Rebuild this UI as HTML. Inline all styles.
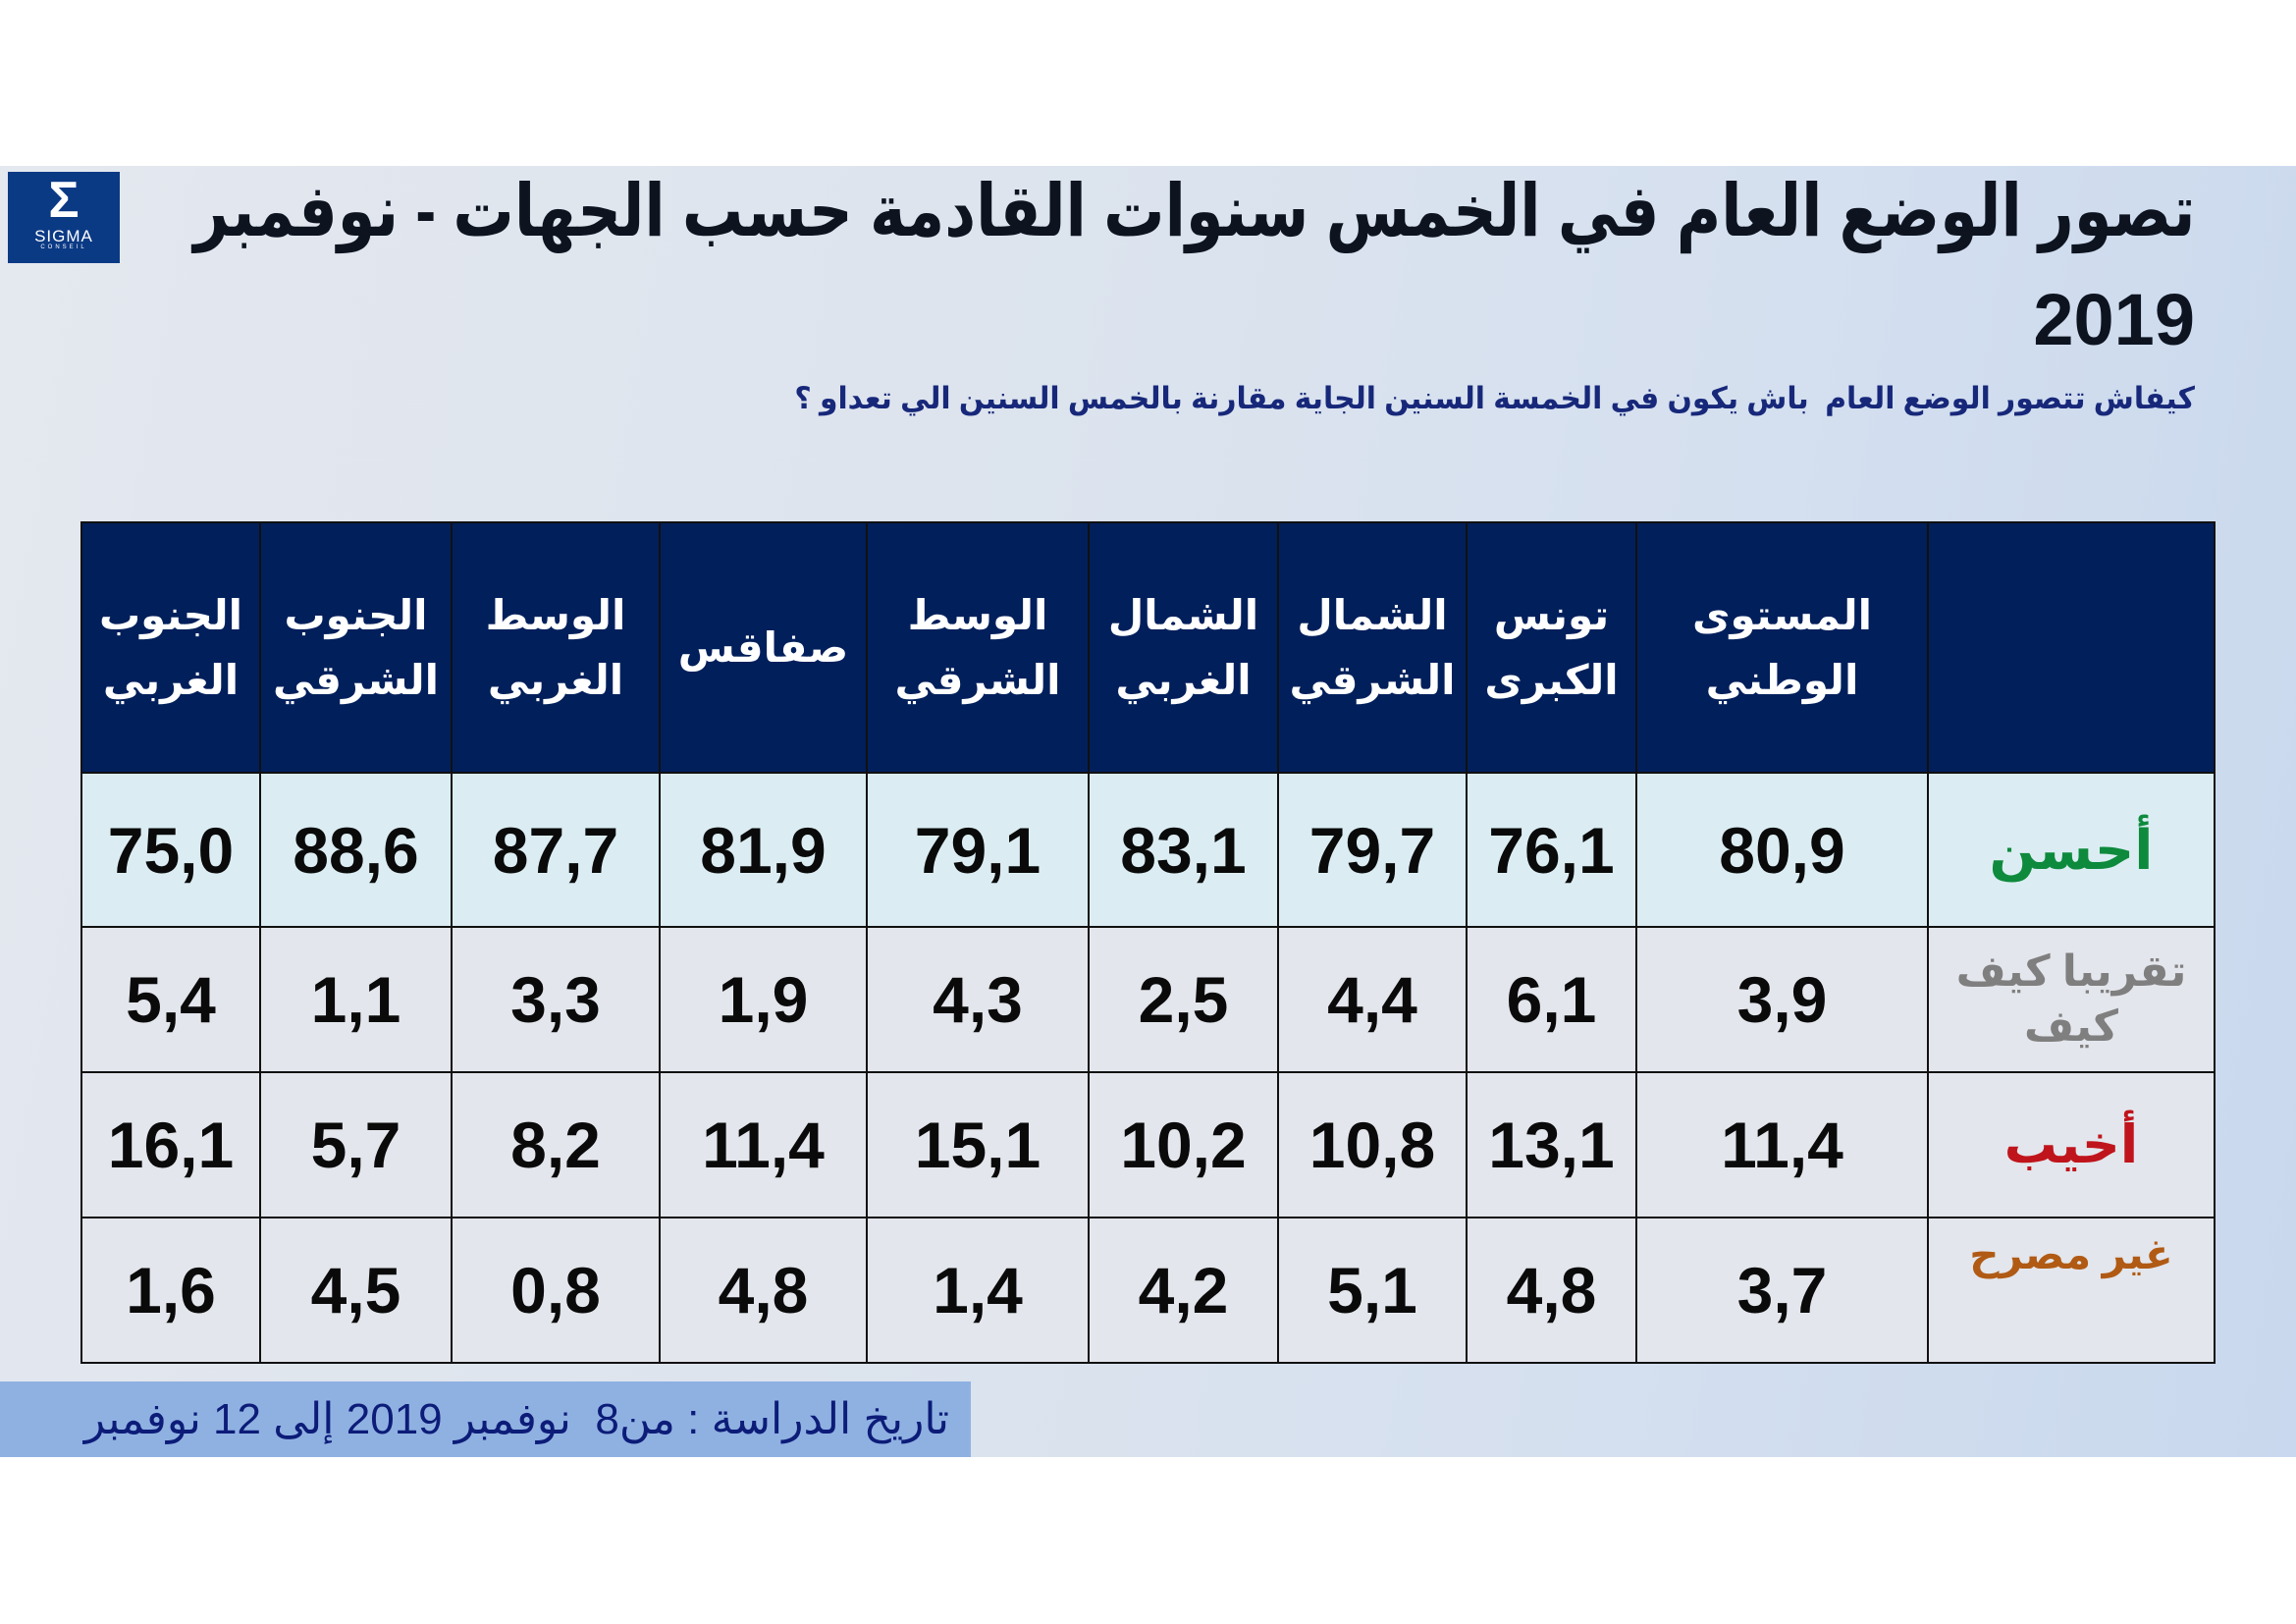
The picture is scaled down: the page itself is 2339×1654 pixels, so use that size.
<!DOCTYPE html>
<html><head><meta charset="utf-8"><style>
html,body{margin:0;padding:0;}
body{width:2339px;height:1654px;position:relative;background:#fff;overflow:hidden;font-family:"Liberation Sans","DejaVu Sans",sans-serif;}
.slide{position:absolute;left:0;top:169px;width:2339px;height:1315px;background:linear-gradient(100deg,#e4e8ef 0%,#dde4ee 40%,#d5e0ef 70%,#c9d8ee 100%);}
.logo{position:absolute;left:8px;top:175px;width:114px;height:93px;background:#0b3a85;color:#fff;text-align:center;}
.logo .s{font-size:52px;line-height:58px;font-weight:bold;}
.logo .t{font-size:17px;line-height:16px;letter-spacing:1px;}
.logo .c{font-size:6px;letter-spacing:3px;}
.title{position:absolute;right:103px;font-weight:bold;font-size:74px;color:#0d1420;white-space:nowrap;direction:rtl;transform-origin:right center;}
.sub{position:absolute;right:103px;top:388px;direction:rtl;font-weight:bold;font-size:31px;color:#17287a;white-space:nowrap;transform:scaleX(0.96);transform-origin:right center;}
table{position:absolute;left:82px;top:531px;border-collapse:collapse;table-layout:fixed;width:2173px;}
td{border:2px solid #111;text-align:center;vertical-align:middle;padding:0;white-space:nowrap;overflow:hidden;}
tr.h td{background:#001f5b;color:#fff;font-weight:bold;font-size:42px;line-height:66px;height:253px;direction:rtl;}
tr.r1 td{background:#dbedf3;height:155px;}
tr.r td{background:#e3e6ec;height:146px;}
td.n{font-weight:bold;font-size:66px;color:#0a0a0a;line-height:80px;}
td.l{font-weight:bold;font-size:50px;direction:rtl;line-height:62px;}
.foot{position:absolute;left:0;top:1407px;width:989px;height:77px;background:#8fb1e2;color:#0c1c78;font-size:44px;direction:rtl;text-align:right;line-height:77px;box-sizing:border-box;padding-right:22px;white-space:nowrap;}
</style></head><body>
<div class="slide"></div>
<div class="logo"><div class="s">Σ</div><div class="t">SIGMA</div><div class="c">CONSEIL</div></div>
<div class="title" style="top:172px;transform:scaleX(0.84);">تصور الوضع العام في الخمس سنوات القادمة حسب الجهات - نوفمبر</div>
<div class="title" style="top:283px;">2019</div>
<div class="sub">كيفاش تتصور الوضع العام &nbsp;باش يكون في الخمسة السنين الجاية مقارنة بالخمس السنين الي تعداو ؟</div>
<table>
<colgroup><col style="width:182px"><col style="width:195px"><col style="width:212px"><col style="width:211px"><col style="width:226px"><col style="width:193px"><col style="width:192px"><col style="width:173px"><col style="width:297px"><col style="width:292px"></colgroup>
<tr class="h"><td>الجنوب<br>الغربي</td><td>الجنوب<br>الشرقي</td><td>الوسط<br>الغربي</td><td>صفاقس</td><td>الوسط<br>الشرقي</td><td>الشمال<br>الغربي</td><td>الشمال<br>الشرقي</td><td>تونس<br>الكبرى</td><td>المستوى<br>الوطني</td><td></td></tr>
<tr class="r1"><td class="n">75,0</td><td class="n">88,6</td><td class="n">87,7</td><td class="n">81,9</td><td class="n">79,1</td><td class="n">83,1</td><td class="n">79,7</td><td class="n">76,1</td><td class="n">80,9</td><td class="l" style="color:#0e8a3c;font-size:56px">أحسن</td></tr>
<tr class="r"><td class="n">5,4</td><td class="n">1,1</td><td class="n">3,3</td><td class="n">1,9</td><td class="n">4,3</td><td class="n">2,5</td><td class="n">4,4</td><td class="n">6,1</td><td class="n">3,9</td><td class="l" style="color:#7f7f7f;font-size:44px;line-height:56px">تقريبا كيف<br>كيف</td></tr>
<tr class="r"><td class="n">16,1</td><td class="n">5,7</td><td class="n">8,2</td><td class="n">11,4</td><td class="n">15,1</td><td class="n">10,2</td><td class="n">10,8</td><td class="n">13,1</td><td class="n">11,4</td><td class="l" style="color:#c0141c;font-size:54px">أخيب</td></tr>
<tr class="r"><td class="n">1,6</td><td class="n">4,5</td><td class="n">0,8</td><td class="n">4,8</td><td class="n">1,4</td><td class="n">4,2</td><td class="n">5,1</td><td class="n">4,8</td><td class="n">3,7</td><td class="l" style="color:#b05a14;font-size:42px;line-height:50px"><span style="position:relative;top:-36px">غير مصرح</span></td></tr>
</table>
<div class="foot">تاريخ الدراسة : من8 &nbsp;نوفمبر 2019 إلى 12 نوفمبر</div>
</body></html>
